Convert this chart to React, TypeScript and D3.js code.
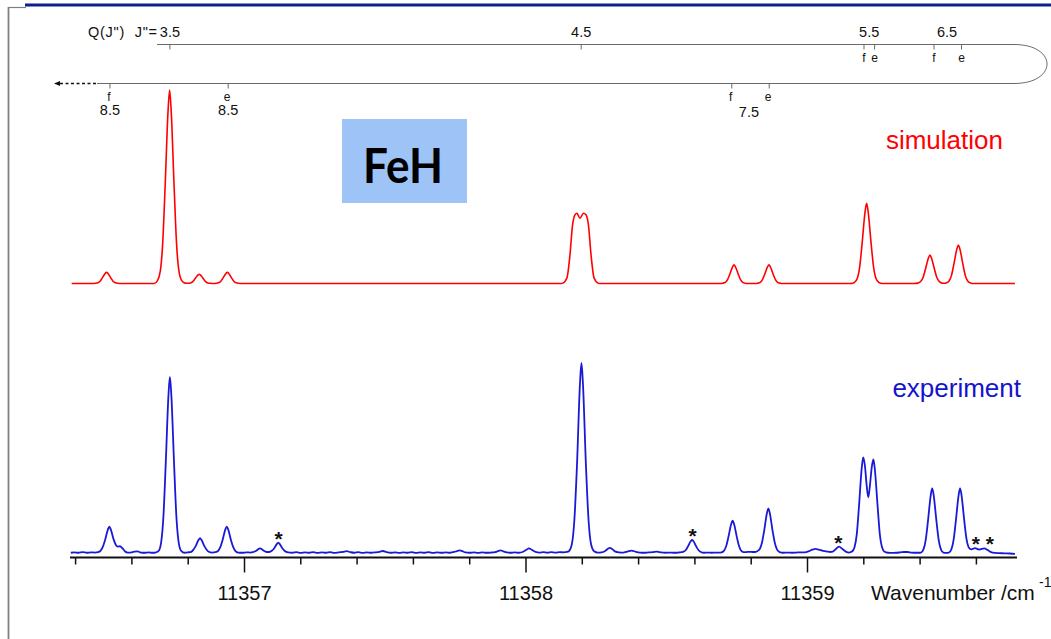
import React from 'react';
import * as d3 from 'd3';

const W = 1051;
const H = 639;

// Simulated spectrum: [wavenumber (cm^-1), relative intensity]
const simulation: [number, number][] = [
  [11356.386, 0], [11356.460, 0], [11356.470, 0.001], [11356.479, 0.004], [11356.487, 0.012],
  [11356.495, 0.029], [11356.505, 0.052], [11356.510, 0.058], [11356.515, 0.052], [11356.525, 0.029],
  [11356.533, 0.012], [11356.541, 0.004], [11356.550, 0.001], [11356.560, 0],
  [11356.679, 0], [11356.691, 0.015], [11356.701, 0.065], [11356.7095, 0.21], [11356.718, 0.5],
  [11356.7287, 0.9], [11356.734, 1.0], [11356.7393, 0.9], [11356.750, 0.5], [11356.7585, 0.21],
  [11356.767, 0.065], [11356.777, 0.015], [11356.789, 0.002],
  [11356.799, 0.001], [11356.808, 0.003], [11356.816, 0.010], [11356.824, 0.024], [11356.834, 0.043],
  [11356.839, 0.048], [11356.844, 0.043], [11356.854, 0.024], [11356.862, 0.010], [11356.870, 0.003],
  [11356.879, 0.001], [11356.889, 0],
  [11356.899, 0.001], [11356.908, 0.004], [11356.916, 0.012], [11356.924, 0.029], [11356.934, 0.052],
  [11356.939, 0.058], [11356.944, 0.052], [11356.954, 0.029], [11356.962, 0.012], [11356.970, 0.004],
  [11356.979, 0.001], [11356.990, 0],
  [11358.125, 0], [11358.1314, 0.002], [11358.1456, 0.03], [11358.1563, 0.15], [11358.1652, 0.30],
  [11358.174, 0.355], [11358.181, 0.363], [11358.1918, 0.337], [11358.2043, 0.363], [11358.2131, 0.355],
  [11358.222, 0.30], [11358.2309, 0.15], [11358.2416, 0.03], [11358.2558, 0.002], [11358.262, 0],
  [11358.690, 0], [11358.699, 0.0015], [11358.708, 0.006], [11358.716, 0.020], [11358.724, 0.048],
  [11358.734, 0.086], [11358.739, 0.096], [11358.744, 0.086], [11358.754, 0.048], [11358.762, 0.020],
  [11358.770, 0.006], [11358.779, 0.0015], [11358.790, 0],
  [11358.815, 0], [11358.823, 0.0015], [11358.832, 0.006], [11358.840, 0.020], [11358.848, 0.048],
  [11358.858, 0.086], [11358.863, 0.096], [11358.868, 0.086], [11358.878, 0.048], [11358.886, 0.020],
  [11358.894, 0.006], [11358.903, 0.0015], [11358.912, 0],
  [11359.155, 0], [11359.167, 0.006], [11359.177, 0.027], [11359.1855, 0.087], [11359.194, 0.207],
  [11359.2047, 0.373], [11359.210, 0.414], [11359.2153, 0.373], [11359.226, 0.207], [11359.2345, 0.087],
  [11359.243, 0.027], [11359.253, 0.006], [11359.265, 0],
  [11359.380, 0], [11359.392, 0.002], [11359.402, 0.010], [11359.4105, 0.031], [11359.419, 0.074],
  [11359.4297, 0.132], [11359.435, 0.147], [11359.4403, 0.132], [11359.451, 0.074], [11359.4595, 0.031],
  [11359.468, 0.010], [11359.478, 0.002], [11359.486, 0.001],
  [11359.493, 0.003], [11359.503, 0.013], [11359.5115, 0.042], [11359.520, 0.10], [11359.5307, 0.179],
  [11359.536, 0.199], [11359.5413, 0.179], [11359.552, 0.10], [11359.5605, 0.042], [11359.569, 0.013],
  [11359.579, 0.003], [11359.591, 0], [11359.737, 0],
];

// Experimental spectrum: [wavenumber (cm^-1), relative intensity]
const experiment: [number, number][] = [
  [11356.383, 0.004], [11356.395, 0.006], [11356.410, 0.004], [11356.425, 0.007], [11356.440, 0.004],
  [11356.455, 0.006], [11356.468, 0.005], [11356.480, 0.007], [11356.489, 0.015], [11356.497, 0.036],
  [11356.505, 0.072], [11356.515, 0.127], [11356.520, 0.141], [11356.525, 0.127], [11356.535, 0.074],
  [11356.543, 0.045], [11356.550, 0.036], [11356.558, 0.038], [11356.566, 0.028], [11356.575, 0.012],
  [11356.585, 0.005], [11356.600, 0.006], [11356.610, 0.010], [11356.620, 0.011], [11356.632, 0.005],
  [11356.645, 0.004], [11356.660, 0.006], [11356.672, 0.004], [11356.683, 0.005], [11356.695, 0.014],
  [11356.704, 0.060], [11356.712, 0.195], [11356.720, 0.464], [11356.730, 0.834], [11356.735, 0.927],
  [11356.740, 0.834], [11356.750, 0.464], [11356.758, 0.195], [11356.766, 0.060], [11356.775, 0.014],
  [11356.787, 0.004], [11356.800, 0.006], [11356.811, 0.009], [11356.819, 0.021], [11356.827, 0.040],
  [11356.837, 0.072], [11356.842, 0.080], [11356.847, 0.072], [11356.857, 0.040], [11356.865, 0.021],
  [11356.873, 0.009], [11356.885, 0.005], [11356.897, 0.007], [11356.906, 0.013], [11356.914, 0.033],
  [11356.922, 0.070], [11356.932, 0.127], [11356.937, 0.141], [11356.942, 0.127], [11356.952, 0.070],
  [11356.960, 0.033], [11356.968, 0.012], [11356.977, 0.005], [11356.992, 0.004], [11357.008, 0.006],
  [11357.020, 0.005], [11357.030, 0.007], [11357.043, 0.016], [11357.055, 0.027], [11357.067, 0.016],
  [11357.078, 0.008], [11357.088, 0.008], [11357.097, 0.014], [11357.105, 0.026], [11357.114, 0.048],
  [11357.120, 0.057], [11357.126, 0.048], [11357.135, 0.026], [11357.143, 0.013], [11357.155, 0.006],
  [11357.170, 0.004], [11357.185, 0.007], [11357.200, 0.003], [11357.215, 0.006], [11357.230, 0.004],
  [11357.245, 0.007], [11357.260, 0.003], [11357.275, 0.006], [11357.290, 0.004], [11357.305, 0.007],
  [11357.320, 0.003], [11357.335, 0.006], [11357.350, 0.008], [11357.363, 0.012], [11357.376, 0.007],
  [11357.390, 0.004], [11357.405, 0.007], [11357.420, 0.003], [11357.435, 0.006], [11357.450, 0.004],
  [11357.465, 0.006], [11357.480, 0.009], [11357.492, 0.013], [11357.505, 0.007], [11357.520, 0.004],
  [11357.535, 0.006], [11357.550, 0.003], [11357.565, 0.006], [11357.580, 0.004], [11357.595, 0.007],
  [11357.610, 0.003], [11357.625, 0.006], [11357.640, 0.004], [11357.655, 0.007], [11357.670, 0.003],
  [11357.685, 0.006], [11357.700, 0.004], [11357.715, 0.006], [11357.730, 0.004], [11357.745, 0.008],
  [11357.755, 0.013], [11357.764, 0.016], [11357.774, 0.012], [11357.785, 0.006], [11357.800, 0.004],
  [11357.815, 0.006], [11357.830, 0.003], [11357.845, 0.006], [11357.860, 0.004], [11357.875, 0.005],
  [11357.890, 0.007], [11357.900, 0.012], [11357.910, 0.016], [11357.920, 0.011], [11357.932, 0.006],
  [11357.945, 0.004], [11357.960, 0.006], [11357.975, 0.004], [11357.988, 0.008], [11358.000, 0.018],
  [11358.011, 0.027], [11358.022, 0.018], [11358.034, 0.008], [11358.048, 0.005], [11358.062, 0.007],
  [11358.076, 0.004], [11358.090, 0.007], [11358.105, 0.005], [11358.120, 0.007], [11358.135, 0.006],
  [11358.145, 0.008], [11358.152, 0.012], [11358.163, 0.05], [11358.172, 0.18], [11358.181, 0.46],
  [11358.192, 0.90], [11358.197, 1.0], [11358.202, 0.90], [11358.213, 0.46], [11358.222, 0.18],
  [11358.231, 0.05], [11358.242, 0.012], [11358.255, 0.005], [11358.268, 0.006], [11358.280, 0.012],
  [11358.290, 0.024], [11358.298, 0.030], [11358.306, 0.024], [11358.316, 0.011], [11358.330, 0.006],
  [11358.345, 0.005], [11358.360, 0.010], [11358.375, 0.015], [11358.390, 0.009], [11358.405, 0.005],
  [11358.420, 0.004], [11358.435, 0.006], [11358.450, 0.007], [11358.465, 0.010], [11358.480, 0.006],
  [11358.495, 0.004], [11358.510, 0.005], [11358.525, 0.004], [11358.540, 0.005], [11358.552, 0.007],
  [11358.558, 0.009], [11358.567, 0.017], [11358.575, 0.036], [11358.585, 0.064], [11358.590, 0.071],
  [11358.595, 0.064], [11358.605, 0.036], [11358.613, 0.017], [11358.621, 0.008], [11358.632, 0.004],
  [11358.645, 0.005], [11358.660, 0.004], [11358.675, 0.005], [11358.688, 0.005], [11358.694, 0.006],
  [11358.703, 0.014], [11358.711, 0.038], [11358.719, 0.086], [11358.729, 0.155], [11358.734, 0.172],
  [11358.739, 0.155], [11358.749, 0.086], [11358.757, 0.038], [11358.765, 0.014], [11358.774, 0.007],
  [11358.786, 0.008], [11358.795, 0.009], [11358.805, 0.008], [11358.813, 0.008], [11358.821, 0.012],
  [11358.830, 0.022], [11358.838, 0.055], [11358.846, 0.119], [11358.856, 0.213], [11358.861, 0.237],
  [11358.866, 0.213], [11358.876, 0.119], [11358.884, 0.055], [11358.892, 0.020], [11358.901, 0.007],
  [11358.913, 0.004], [11358.930, 0.005], [11358.945, 0.004], [11358.960, 0.005], [11358.975, 0.006],
  [11358.990, 0.006], [11359.005, 0.012], [11359.017, 0.020], [11359.028, 0.024], [11359.040, 0.020],
  [11359.055, 0.014], [11359.070, 0.010], [11359.080, 0.008], [11359.090, 0.010], [11359.100, 0.022],
  [11359.112, 0.036], [11359.124, 0.024], [11359.136, 0.010], [11359.148, 0.005], [11359.158, 0.010],
  [11359.167, 0.033], [11359.175, 0.10], [11359.183, 0.25], [11359.193, 0.455], [11359.198, 0.505],
  [11359.204, 0.46], [11359.210, 0.36], [11359.216, 0.295], [11359.222, 0.36], [11359.228, 0.45],
  [11359.234, 0.494], [11359.239, 0.445], [11359.249, 0.25], [11359.257, 0.10], [11359.265, 0.032],
  [11359.274, 0.009], [11359.286, 0.004], [11359.300, 0.003], [11359.315, 0.004], [11359.330, 0.006],
  [11359.345, 0.008], [11359.355, 0.008], [11359.370, 0.005], [11359.385, 0.004], [11359.395, 0.004],
  [11359.403, 0.005], [11359.412, 0.022], [11359.420, 0.072], [11359.428, 0.171], [11359.438, 0.308],
  [11359.443, 0.342], [11359.448, 0.308], [11359.458, 0.171], [11359.466, 0.072], [11359.474, 0.022],
  [11359.483, 0.005], [11359.492, 0.003], [11359.502, 0.005], [11359.511, 0.022], [11359.519, 0.072],
  [11359.527, 0.171], [11359.537, 0.308], [11359.542, 0.342], [11359.547, 0.308], [11359.557, 0.171],
  [11359.565, 0.075], [11359.573, 0.032], [11359.582, 0.022], [11359.595, 0.028], [11359.610, 0.021],
  [11359.628, 0.027], [11359.640, 0.018], [11359.652, 0.007], [11359.665, 0.003], [11359.680, 0.002],
  [11359.700, 0.001], [11359.720, 0.0], [11359.737, -0.002],
];

// asterisk-marked (impurity) lines in the experiment: [wavenumber, peak intensity]
const starMarks: [number, number][] = [
  [11357.121, 0.057], [11358.592, 0.071], [11359.110, 0.036], [11359.598, 0.027], [11359.648, 0.027],
];

// Q-branch assignment ladder
const upperTicks: [number, string][] = [
  [11356.735, ''], [11358.196, ''], [11359.2007, 'f'], [11359.2384, 'e'], [11359.4494, 'f'], [11359.547, 'e'],
];
const upperLabels: [number, string][] = [
  [11356.735, '3.5'], [11358.196, '4.5'], [11359.219, '5.5'], [11359.496, '6.5'],
];
const lowerTicks: [number, string][] = [
  [11356.522, 'f'], [11356.942, 'e'], [11358.731, 'f'], [11358.864, 'e'],
];
const lowerLabels: [number, string][] = [
  [11356.522, '8.5'], [11356.942, '8.5'], [11358.792, '7.5'],
];

const majorTicks = [11357, 11358, 11359];
const minorTicks = [
  11356.4, 11356.6, 11356.8, 11357.2, 11357.4, 11357.6, 11357.8,
  11358.2, 11358.4, 11358.6, 11358.8, 11359.2, 11359.4, 11359.6,
];

const FONT = '"Liberation Sans", Arial, sans-serif';

export default function App() {
  const x = d3.scaleLinear().domain([11357, 11359]).range([244.5, 807.5]);
  const yExp = d3.scaleLinear().domain([0, 1]).range([553.5, 363]);
  const ySim = d3.scaleLinear().domain([0, 1]).range([283.5, 90]);

  const simLine = d3.line<[number, number]>()
    .x((d) => x(d[0]))
    .y((d) => ySim(d[1]))
    .curve(d3.curveMonotoneX);
  const expLine = d3.line<[number, number]>()
    .x((d) => x(d[0]))
    .y((d) => yExp(d[1]))
    .curve(d3.curveMonotoneX);

  const axisY = 557.5;
  const topY = 44.5;
  const botY = 83.5;
  const ladderColor = '#6a6a6a';

  return (
    <div style={{ position: 'absolute', left: 0, top: 0 }}>
      <svg width={W} height={H} style={{ display: 'block', background: '#fff' }}>
        {/* frame */}
        <line x1={8.5} y1={7} x2={8.5} y2={H} stroke="#808080" strokeWidth={1.8} />
        <line x1={8} y1={7.5} x2={26} y2={7.5} stroke="#808080" strokeWidth={1.2} />
        <line x1={25} y1={5} x2={W} y2={5} stroke="#0b1f8f" strokeWidth={3} />

        {/* Q-branch ladder */}
        <text x={88} y={37} fontFamily={FONT} fontSize={14.5} fill="#111" xmlSpace="preserve" textLength={69} lengthAdjust="spacing">
          {'Q(J")  J"='}
        </text>
        <line x1={157} y1={topY} x2={1014} y2={topY} stroke={ladderColor} strokeWidth={1} />
        <line x1={97} y1={botY} x2={1014} y2={botY} stroke={ladderColor} strokeWidth={1} />
        <path
          d={`M1014,${topY} C1058,${topY} 1058,${botY} 1014,${botY}`}
          fill="none"
          stroke={ladderColor}
          strokeWidth={1}
        />
        <line x1={60} y1={botY} x2={97} y2={botY} stroke="#111" strokeWidth={1.3} strokeDasharray="3,2.5" />
        <path d={`M54,${botY} L60,${botY - 2.5} L60,${botY + 2.5} Z`} fill="#111" />
        {upperTicks.map(([w, p], i) => (
          <g key={`ut${i}`}>
            <line x1={x(w)} y1={topY} x2={x(w)} y2={topY + 5} stroke={ladderColor} strokeWidth={1} />
            {p && (
              <text x={x(w)} y={62} textAnchor="middle" fontFamily={FONT} fontSize={12} fill="#111">
                {p}
              </text>
            )}
          </g>
        ))}
        {upperLabels.map(([w, t], i) => (
          <text key={`ul${i}`} x={x(w)} y={37} textAnchor="middle" fontFamily={FONT} fontSize={14.5} fill="#111">
            {t}
          </text>
        ))}
        {lowerTicks.map(([w, p], i) => (
          <g key={`lt${i}`}>
            <line x1={x(w)} y1={botY} x2={x(w)} y2={botY + 5} stroke={ladderColor} strokeWidth={1} />
            <text x={x(w) - 1} y={101} textAnchor="middle" fontFamily={FONT} fontSize={12} fill="#111">
              {p}
            </text>
          </g>
        ))}
        {lowerLabels.map(([w, t], i) => (
          <text key={`ll${i}`} x={x(w)} y={i === 2 ? 117 : 115} textAnchor="middle" fontFamily={FONT} fontSize={14.5} fill="#111">
            {t}
          </text>
        ))}

        {/* FeH label */}
        <rect x={342} y={119} width={125} height={84} fill="#9dc3f7" />
        <text
          x={403}
          y={183}
          textAnchor="middle"
          fontFamily='Lato, "Open Sans", sans-serif'
          fontWeight={700}
          fontSize={47}
          fill="#000"
          textLength={80}
          lengthAdjust="spacingAndGlyphs"
        >
          FeH
        </text>

        {/* series labels */}
        <text x={1003} y={149} textAnchor="end" fontFamily={FONT} fontSize={26} fill="#ff0000">
          simulation
        </text>
        <text x={1021} y={397} textAnchor="end" fontFamily={FONT} fontSize={26} fill="#1414cc">
          experiment
        </text>

        {/* spectra */}
        <path d={simLine(simulation) || ''} fill="none" stroke="#ff0000" strokeWidth={1.6} strokeLinejoin="round" />
        <path d={expLine(experiment) || ''} fill="none" stroke="#1a1ad6" strokeWidth={1.8} strokeLinejoin="round" />

        {/* asterisks */}
        {starMarks.map(([w, h], i) => (
          <text key={`s${i}`} x={x(w)} y={yExp(h) - 8 + 11} textAnchor="middle" fontFamily={FONT} fontSize={21} fontWeight={700} fill="#111">
            *
          </text>
        ))}

        {/* x axis */}
        <line x1={70} y1={axisY} x2={1017} y2={axisY} stroke="#111" strokeWidth={1.8} />
        {minorTicks.map((t) => (
          <line key={`mt${t}`} x1={x(t)} y1={axisY} x2={x(t)} y2={axisY + 7} stroke="#111" strokeWidth={1.5} />
        ))}
        {majorTicks.map((t) => (
          <g key={`Mt${t}`}>
            <line x1={x(t)} y1={axisY} x2={x(t)} y2={axisY + 15} stroke="#111" strokeWidth={1.5} />
            <text x={x(t)} y={600} textAnchor="middle" fontFamily={FONT} fontSize={20} fill="#111">
              {t}
            </text>
          </g>
        ))}
        <text x={871} y={600} fontFamily={FONT} fontSize={21} fill="#111">
          Wavenumber /cm
        </text>
        <text x={1039} y={587} fontFamily={FONT} fontSize={14} fill="#111">
          -1
        </text>
      </svg>
    </div>
  );
}
